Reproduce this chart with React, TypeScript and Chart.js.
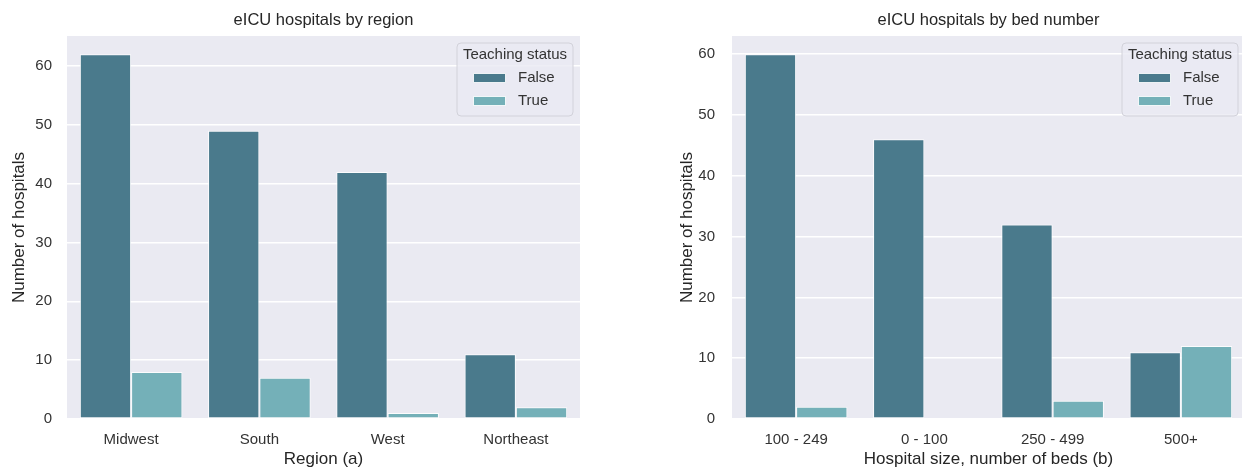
import React, { useEffect, useRef } from "react";
import { Chart, registerables } from "chart.js";

Chart.register(...registerables);

// ---- data ----
const regionLabels = ["Midwest", "South", "West", "Northeast"];
const regionFalse = [62, 49, 42, 11];
const regionTrue = [8, 7, 1, 2];

const bedLabels = ["100 - 249", "0 - 100", "250 - 499", "500+"];
const bedFalse = [60, 46, 32, 11];
const bedTrue = [2, 0, 3, 12];

const yTickValues = [0, 10, 20, 30, 40, 50, 60];
const seriesNames = ["False", "True"];
const legendTitle = "Teaching status";
const yAxisTitle = "Number of hospitals";

const FONT = '"Liberation Sans", Arial, Helvetica, sans-serif';
const TEXT = "#262626";
const TICK = "#333333";
const BG = "#eaeaf2";
const COLOR_FALSE = "#4a7a8c";
const COLOR_TRUE = "#74b0b8";

const bgPlugin = {
  id: "plotBg",
  beforeDraw(chart: any) {
    const { ctx, chartArea } = chart;
    ctx.save();
    ctx.fillStyle = BG;
    ctx.fillRect(chartArea.left, chartArea.top, chartArea.right - chartArea.left, chartArea.bottom - chartArea.top);
    ctx.restore();
  },
};

const titlePlugin = {
  id: "plotTitle",
  afterDraw(chart: any, _args: any, opts: any) {
    const { ctx, chartArea } = chart;
    ctx.save();
    ctx.font = `16.5px ${FONT}`;
    ctx.fillStyle = TEXT;
    ctx.textAlign = "center";
    ctx.textBaseline = "middle";
    ctx.fillText(opts.text, (chartArea.left + chartArea.right) / 2, 20);
    ctx.restore();
  },
};

const legendPlugin = {
  id: "teachLegend",
  afterDraw(chart: any) {
    const { ctx, chartArea } = chart;
    const w = 116;
    const h = 73;
    const x = chartArea.right - 7 - w;
    const y = chartArea.top + 7;
    ctx.save();
    ctx.beginPath();
    const r = 4;
    ctx.moveTo(x + r, y);
    ctx.lineTo(x + w - r, y);
    ctx.arcTo(x + w, y, x + w, y + r, r);
    ctx.lineTo(x + w, y + h - r);
    ctx.arcTo(x + w, y + h, x + w - r, y + h, r);
    ctx.lineTo(x + r, y + h);
    ctx.arcTo(x, y + h, x, y + h - r, r);
    ctx.lineTo(x, y + r);
    ctx.arcTo(x, y, x + r, y, r);
    ctx.closePath();
    ctx.fillStyle = "rgba(234,234,242,0.8)";
    ctx.fill();
    ctx.strokeStyle = "#d2d2da";
    ctx.lineWidth = 1;
    ctx.stroke();

    ctx.font = `15px ${FONT}`;
    ctx.fillStyle = TICK;
    ctx.textAlign = "center";
    ctx.textBaseline = "middle";
    ctx.fillText(legendTitle, x + w / 2, y + 12);
    chart.data.datasets.forEach((ds: any, i: number) => {
      const cy = y + 35 + i * 23;
      ctx.fillStyle = ds.backgroundColor;
      ctx.fillRect(x + 16, cy - 5, 33, 10);
      ctx.strokeStyle = "rgba(255,255,255,0.9)";
      ctx.lineWidth = 1;
      ctx.strokeRect(x + 16.5, cy - 4.5, 32, 9);
      ctx.fillStyle = TICK;
      ctx.textAlign = "left";
      ctx.fillText(ds.label, x + 61, cy);
    });
    ctx.restore();
  },
};

type PanelProps = {
  labels: string[];
  falseVals: number[];
  trueVals: number[];
  title: string;
  xTitle: string;
  width: number;
  plotLeft: number;
  plotRight: number;
  tickPad: number;
  yTitlePad: number;
  left: number;
};

function Panel(p: PanelProps) {
  const ref = useRef<HTMLCanvasElement>(null);
  useEffect(() => {
    if (!ref.current) return;
    const maxVal = Math.max(...p.falseVals, ...p.trueVals) * 1.05;
    const chart = new Chart(ref.current, {
      type: "bar",
      data: {
        labels: p.labels,
        datasets: [
          {
            label: seriesNames[0],
            data: p.falseVals,
            backgroundColor: COLOR_FALSE,
            borderColor: "rgba(255,255,255,0.85)",
            borderWidth: (c: any) => (c.raw === 0 ? 0 : 1),
            borderSkipped: false,
            categoryPercentage: 0.8,
            barPercentage: 1.0,
          },
          {
            label: seriesNames[1],
            data: p.trueVals,
            backgroundColor: COLOR_TRUE,
            borderColor: "rgba(255,255,255,0.85)",
            borderWidth: (c: any) => (c.raw === 0 ? 0 : 1),
            borderSkipped: false,
            categoryPercentage: 0.8,
            barPercentage: 1.0,
          },
        ],
      },
      options: {
        responsive: false,
        animation: false,
        devicePixelRatio: 1,
        layout: { padding: { left: 0, right: p.width - p.plotRight, top: 36, bottom: 0 } },
        plugins: {
          legend: { display: false },
          title: { display: false },
          tooltip: { enabled: false },
          plotTitle: { text: p.title },
        } as any,
        scales: {
          x: {
            grid: { display: false, drawTicks: false },
            border: { display: false },
            ticks: { font: { family: FONT, size: 15 }, color: TICK, padding: 12 },
            title: {
              display: true,
              text: p.xTitle,
              font: { family: FONT, size: 17 },
              color: TEXT,
              padding: { top: 0, bottom: 2 },
            },
            afterFit: (s: any) => {
              s.height = 53;
            },
          },
          y: {
            min: 0,
            max: maxVal,
            grid: { color: "#ffffff", lineWidth: 1.5, drawTicks: false },
            border: { display: false },
            ticks: {
              font: { family: FONT, size: 15 },
              color: TICK,
              padding: p.tickPad,
              includeBounds: false,
              stepSize: 10,
            },
            afterBuildTicks: (s: any) => {
              s.ticks = yTickValues.map((v) => ({ value: v }));
            },
            title: {
              display: true,
              text: yAxisTitle,
              font: { family: FONT, size: 17 },
              color: TEXT,
              padding: { top: p.yTitlePad, bottom: 0 },
            },
            afterFit: (s: any) => {
              s.width = p.plotLeft;
            },
          },
        },
      },
      plugins: [bgPlugin, titlePlugin, legendPlugin],
    } as any);
    return () => chart.destroy();
  }, []);
  return (
    <canvas
      ref={ref}
      width={p.width}
      height={472}
      style={{ position: "absolute", left: p.left, top: 0, width: p.width, height: 472 }}
    />
  );
}

export default function App() {
  return (
    <div
      style={{
        position: "fixed",
        left: 0,
        top: 0,
        width: 1242,
        height: 472,
        overflow: "hidden",
        background: "#ffffff",
      }}
    >
      <Panel
        labels={regionLabels}
        falseVals={regionFalse}
        trueVals={regionTrue}
        title="eICU hospitals by region"
        xTitle="Region (a)"
        width={620}
        plotLeft={67}
        plotRight={580}
        tickPad={15}
        yTitlePad={9}
        left={0}
      />
      <Panel
        labels={bedLabels}
        falseVals={bedFalse}
        trueVals={bedTrue}
        title="eICU hospitals by bed number"
        xTitle="Hospital size, number of beds (b)"
        width={630}
        plotLeft={112}
        plotRight={625}
        tickPad={17}
        yTitlePad={57}
        left={620}
      />
    </div>
  );
}
